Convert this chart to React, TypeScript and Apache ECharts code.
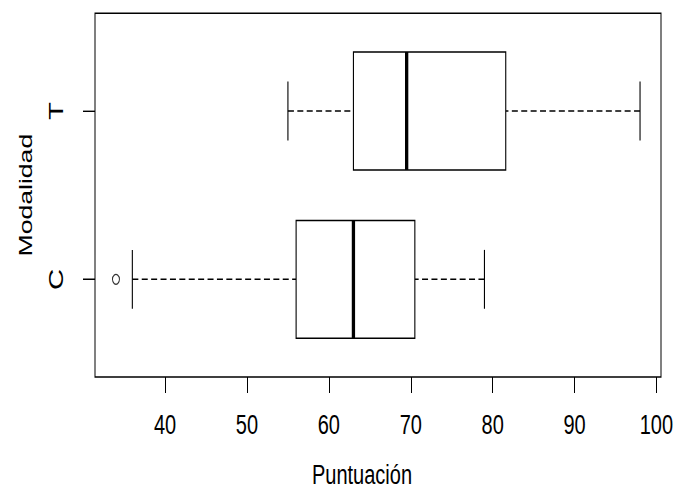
import React, { useEffect, useRef } from "react";
import * as echarts from "echarts";

// ---- data ----
const categories = ["C", "T"];
const whiskerLow = [36, 55];
const q1 = [56, 63];
const medians = [63, 69.5];
const q3 = [70.5, 81.6];
const whiskerHigh = [79, 98];
const outlierGroup = ["C"];
const outlierValues = [34];
const xTicks = [40, 50, 60, 70, 80, 90, 100];
const xTitle = "Puntuación";
const yTitle = "Modalidad";

// the reference picture is an R plot stretched vertically
const STRETCH = 1.4;
const W = 676;
const H = 349;
const FONT = "'Liberation Sans', Arial, sans-serif";

export default function App() {
  const ref = useRef<HTMLDivElement>(null);

  useEffect(() => {
    document.documentElement.style.overflow = "hidden";
    document.body.style.margin = "0";
    document.body.style.overflow = "hidden";
    const chart = echarts.init(ref.current!, null, { renderer: "svg" });

    const all = [...whiskerLow, ...whiskerHigh, ...outlierValues];
    const lo = Math.min(...all);
    const hi = Math.max(...all);
    const ext = (hi - lo) * 0.04;
    const n = categories.length;
    const yMin = 0.5 - 0.04 * n;
    const yMax = n + 0.5 + 0.04 * n;

    const boxData = categories.map((_, i) => [
      i + 1,
      whiskerLow[i],
      q1[i],
      medians[i],
      q3[i],
      whiskerHigh[i],
    ]);
    const outData = outlierValues.map((v, k) => [
      v,
      categories.indexOf(outlierGroup[k]) + 1,
    ]);

    const dash = [6, 3.4];

    chart.setOption({
      animation: false,
      backgroundColor: "#fff",
      grid: {
        left: 95,
        right: 15,
        top: 9.5,
        bottom: H - 269.3,
        outerBoundsMode: "none",
        containLabel: false,
        show: true,
        borderColor: "#000",
        borderWidth: 1,
        backgroundColor: "transparent",
      },
      xAxis: {
        type: "value",
        min: lo - ext,
        max: hi + ext,
        axisLine: { show: false },
        splitLine: { show: false },
        axisTick: {
          show: true,
          length: 11.4,
          customValues: xTicks,
          lineStyle: { color: "#000", width: 1 },
        },
        axisLabel: {
          customValues: xTicks,
          margin: 24,
          fontSize: 20,
          fontFamily: FONT,
          color: "#000",
        },
        name: xTitle,
        nameLocation: "middle",
        nameGap: 59.5,
        nameTextStyle: {
          fontSize: 20,
          lineHeight: 20,
          fontFamily: FONT,
          color: "#000",
          padding: [0, 32, 0, 0],
        },
      },
      yAxis: {
        type: "value",
        min: yMin,
        max: yMax,
        axisLine: { show: false },
        splitLine: { show: false },
        axisTick: {
          show: true,
          length: 12,
          customValues: [1, 2],
          lineStyle: { color: "#000", width: 1 },
        },
        axisLabel: {
          customValues: [1, 2],
          formatter: (v: number) => categories[Math.round(v) - 1] ?? "",
          rotate: 90,
          margin: 29,
          fontSize: 21,
          fontFamily: FONT,
          color: "#000",
        },
        name: yTitle,
        nameLocation: "middle",
        nameRotate: 90,
        nameGap: 60,
        nameTextStyle: {
          fontSize: 19,
          fontFamily: FONT,
          color: "#000",
        },
      },
      series: [
        {
          type: "custom",
          data: boxData,
          encode: { x: [1, 2, 3, 4, 5], y: 0 },
          renderItem: (_params: any, api: any) => {
            const y = api.value(0);
            const pLo = api.coord([api.value(1), y]);
            const pA = api.coord([api.value(2), y]);
            const pM = api.coord([api.value(3), y]);
            const pB = api.coord([api.value(4), y]);
            const pHi = api.coord([api.value(5), y]);
            const unit = api.size([0, 1])[1];
            const half = unit * 0.35;
            const cap = unit * 0.175;
            const stroke = { stroke: "#000", lineWidth: 1.1 };
            return {
              type: "group",
              children: [
                {
                  type: "line",
                  shape: { x1: pLo[0], y1: pLo[1], x2: pA[0], y2: pA[1] },
                  style: { ...stroke, lineDash: dash },
                },
                {
                  type: "line",
                  shape: { x1: pHi[0], y1: pHi[1], x2: pB[0], y2: pB[1] },
                  style: { ...stroke, lineDash: dash },
                },
                {
                  type: "line",
                  shape: { x1: pLo[0], y1: pLo[1] - cap, x2: pLo[0], y2: pLo[1] + cap },
                  style: stroke,
                },
                {
                  type: "line",
                  shape: { x1: pHi[0], y1: pHi[1] - cap, x2: pHi[0], y2: pHi[1] + cap },
                  style: stroke,
                },
                {
                  type: "rect",
                  shape: { x: pA[0], y: pA[1] - half, width: pB[0] - pA[0], height: 2 * half },
                  style: { fill: "#fff", ...stroke },
                },
                {
                  type: "line",
                  shape: { x1: pM[0], y1: pM[1] - half, x2: pM[0], y2: pM[1] + half },
                  style: { stroke: "#000", lineWidth: 3.3 },
                },
              ],
            };
          },
        },
        {
          type: "scatter",
          data: outData,
          symbol: "circle",
          symbolSize: 7,
          itemStyle: { color: "rgba(0,0,0,0)", borderColor: "#000", borderWidth: 1 },
        },
      ],
    });

    return () => chart.dispose();
  }, []);

  return (
    <div
      style={{
        position: "absolute",
        left: 0,
        top: 0,
        width: W,
        height: 489,
        overflow: "hidden",
        background: "#fff",
      }}
    >
      <div
        ref={ref}
        style={{
          width: W,
          height: H,
          transform: `scaleY(${STRETCH})`,
          transformOrigin: "top left",
        }}
      />
    </div>
  );
}
